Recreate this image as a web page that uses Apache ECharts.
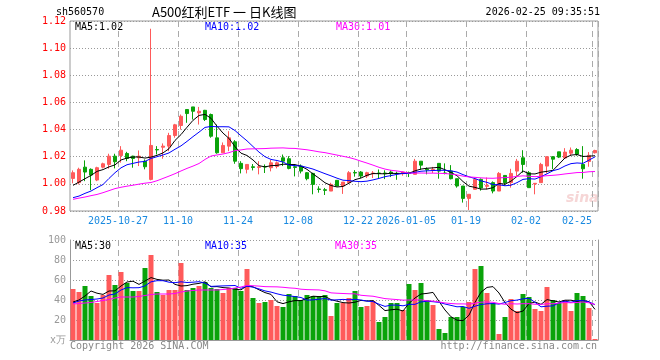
<!DOCTYPE html>
<html><head><meta charset="utf-8">
<script src="https://cdn.jsdelivr.net/npm/echarts@6/dist/echarts.min.js"></script>
<style>html,body{margin:0;padding:0;background:#fff}#c{width:660px;height:360px}</style>
</head><body><div id="c"></div>
<script>
const dates = [
 '2025-10-15','2025-10-16','2025-10-17','2025-10-20','2025-10-21','2025-10-22','2025-10-23','2025-10-24','2025-10-27','2025-10-28',
 '2025-10-29','2025-10-30','2025-10-31','2025-11-03','2025-11-04','2025-11-05','2025-11-06','2025-11-07','2025-11-10','2025-11-11',
 '2025-11-12','2025-11-13','2025-11-14','2025-11-17','2025-11-18','2025-11-19','2025-11-20','2025-11-21','2025-11-24','2025-11-25',
 '2025-11-26','2025-11-27','2025-11-28','2025-12-01','2025-12-02','2025-12-03','2025-12-04','2025-12-05','2025-12-08','2025-12-09',
 '2025-12-10','2025-12-11','2025-12-12','2025-12-15','2025-12-16','2025-12-17','2025-12-18','2025-12-19','2025-12-22','2025-12-23',
 '2025-12-24','2025-12-25','2025-12-26','2025-12-29','2025-12-30','2025-12-31','2026-01-05','2026-01-06','2026-01-07','2026-01-08',
 '2026-01-09','2026-01-12','2026-01-13','2026-01-14','2026-01-15','2026-01-16','2026-01-19','2026-01-20','2026-01-21','2026-01-22',
 '2026-01-23','2026-01-26','2026-01-27','2026-01-28','2026-01-29','2026-01-30','2026-02-02','2026-02-03','2026-02-04','2026-02-05',
 '2026-02-06','2026-02-09','2026-02-10','2026-02-11','2026-02-12','2026-02-13','2026-02-24','2026-02-25'];
const opens = [
 1.0040,1.0009,1.0123,1.0107,1.0028,1.0123,1.0143,1.0204,1.0209,1.0224,
 1.0204,1.0192,1.0167,1.0033,1.0253,1.0270,1.0278,1.0356,1.0430,1.0548,
 1.0567,1.0523,1.0542,1.0511,1.0339,1.0229,1.0278,1.0310,1.0151,1.0107,
 1.0126,1.0121,1.0128,1.0119,1.0128,1.0192,1.0185,1.0126,1.0131,1.0082,
 1.0077,0.9962,0.9957,0.9947,1.0026,0.9984,1.0009,1.0084,1.0087,1.0058,
 1.0075,1.0080,1.0080,1.0087,1.0078,1.0075,1.0082,1.0070,1.0167,1.0109,
 1.0100,1.0151,1.0080,1.0094,1.0038,0.9984,0.9893,0.9960,1.0033,0.9982,
 1.0009,0.9947,1.0062,1.0009,1.0094,1.0192,1.0082,0.9999,1.0009,1.0131,
 1.0200,1.0236,1.0190,1.0226,1.0253,1.0143,1.0165,1.0229];
const closes = [
 1.0082,1.0107,1.0087,1.0065,1.0119,1.0148,1.0204,1.0163,1.0248,1.0187,
 1.0187,1.0204,1.0126,1.0283,1.0250,1.0278,1.0356,1.0435,1.0498,1.0518,
 1.0535,1.0535,1.0474,1.0351,1.0229,1.0283,1.0339,1.0167,1.0112,1.0143,
 1.0121,1.0126,1.0124,1.0155,1.0155,1.0167,1.0114,1.0121,1.0094,1.0038,
 0.9996,0.9959,0.9952,0.9996,0.9984,1.0013,1.0082,1.0080,1.0058,1.0082,
 1.0080,1.0077,1.0075,1.0075,1.0075,1.0087,1.0077,1.0167,1.0138,1.0104,
 1.0106,1.0094,1.0077,1.0038,0.9984,0.9893,0.9923,1.0033,0.9970,0.9989,
 0.9947,1.0077,1.0009,1.0077,1.0167,1.0143,0.9972,1.0004,1.0143,1.0200,
 1.0182,1.0197,1.0234,1.0248,1.0219,1.0111,1.0210,1.0246];
const lows = [
 1.0004,0.9996,1.0020,0.9954,1.0020,1.0114,1.0112,1.0114,1.0156,1.0167,
 1.0119,1.0131,1.0107,1.0026,1.0217,1.0185,1.0241,1.0340,1.0400,1.0450,
 1.0474,1.0437,1.0463,1.0340,1.0222,1.0229,1.0241,1.0148,1.0077,1.0077,
 1.0099,1.0070,1.0080,1.0092,1.0114,1.0131,1.0107,1.0055,1.0077,1.0026,
 0.9923,0.9935,0.9918,0.9947,0.9984,0.9926,1.0009,1.0053,1.0043,1.0043,
 1.0043,1.0038,1.0035,1.0050,1.0030,1.0060,1.0050,1.0070,1.0104,1.0070,
 1.0080,1.0038,1.0070,1.0033,0.9972,0.9862,0.9807,0.9960,0.9950,0.9960,
 0.9930,0.9947,0.9987,0.9972,1.0057,1.0082,0.9972,0.9923,1.0009,1.0077,
 1.0109,1.0190,1.0190,1.0207,1.0207,1.0038,1.0126,1.0224];
const highs = [
 1.0099,1.0119,1.0173,1.0114,1.0126,1.0156,1.0222,1.0222,1.0278,1.0236,
 1.0207,1.0246,1.0180,1.1143,1.0278,1.0298,1.0376,1.0442,1.0511,1.0548,
 1.0567,1.0567,1.0545,1.0518,1.0437,1.0305,1.0388,1.0322,1.0167,1.0143,
 1.0146,1.0167,1.0143,1.0177,1.0165,1.0216,1.0204,1.0146,1.0143,1.0087,
 1.0082,0.9982,0.9970,1.0008,1.0026,1.0013,1.0094,1.0101,1.0094,1.0089,
 1.0094,1.0106,1.0100,1.0100,1.0090,1.0090,1.0090,1.0184,1.0167,1.0121,
 1.0125,1.0151,1.0151,1.0138,1.0038,0.9984,0.9923,1.0045,1.0040,1.0047,
 1.0018,1.0087,1.0062,1.0111,1.0184,1.0248,1.0094,1.0006,1.0155,1.0204,
 1.0204,1.0236,1.0263,1.0268,1.0263,1.0278,1.0234,1.0251];
const volumes = [
 51,48,54,44,37,45,65,55,68,57,
 49,49,72,85,48,45,50,50,77,50,
 52,54,58,52,51,47,52,52,49,71,
 42,37,38,40,34,33,46,44,40,45,
 44,44,45,24,37,37,42,49,33,34,
 39,18,23,37,37,30,56,50,57,40,
 35,11,7,23,23,33,38,71,74,47,
 37,6,23,41,29,46,43,31,29,53,
 40,37,40,29,47,44,32,1];
// moving-average values before enough history exists in the window
const priceMa5Head = [0.9989,1.0013,1.0038,1.0062];
const priceMa10Head = [0.9898,0.9910,0.9930,0.9947,0.9972,0.9995,1.0040,1.0082,1.0118];
const priceMa30Head = [0.9886,0.9895,0.9903,0.9913,0.9922,0.9935,0.9950,0.9965,0.9975,0.9983,
 0.9990,0.9998,1.0005,1.0010,1.0023,1.0040,1.0057,1.0075,1.0095,1.0114,
 1.0131,1.0150,1.0180,1.0205,1.0213,1.0220,1.0230,1.0245,1.0250];
const volMa5Head = [38,40,44,49];
const volMa10Head = [37,39,40,40.5,41,42,45,46,50];
const volMa30Head = [36,36.5,37,37.5,38.5,39.5,40.5,42,43,43,43,43.5,44.5,45.5,46,46,46,46.5,48,49,49.5,50,50,50,50,50.5,51,52,53];
const tickDates = ['2025-10-27','2025-11-10','2025-11-24','2025-12-08','2025-12-22','2026-01-05','2026-01-19','2026-02-02','2026-02-25'];
const tickLabels = ['2025-10-27','11-10','11-24','12-08','12-22','2026-01-05','01-19','02-02','02-25'];
const priceMin = 0.98, priceMax = 1.12, priceStep = 0.02;
const volMin = 0, volMax = 100, volStep = 20;

function movingAvg(src, n, head){
  return src.map((v,i)=>{
    if(i<head.length) return head[i];
    let s=0; for(let k=i-n+1;k<=i;k++) s+=src[k];
    return +(s/n).toFixed(4);
  });
}
const RED='#ff5a5a', GREEN='#0aa30a';
const MONO='DejaVu Sans Mono';
const isUp = i => closes[i]>opens[i] || (closes[i]===opens[i] && i>0 && closes[i]>=closes[i-1]);
const kData = dates.map((d,i)=>[opens[i],closes[i],lows[i],highs[i]]);
const volData = volumes.map((v,i)=>({value:v,itemStyle:{color:isUp(i)?RED:GREEN}}));
const showTick = (idx,val)=>tickDates.indexOf(val)>=0;
const vSplit = {show:true, interval:showTick, lineStyle:{color:'#aaa', type:[6,4], width:1}};
const hSplit = {show:true, lineStyle:{color:'#999', type:[1,2], width:1}};
const lastTick = tickDates[tickDates.length-1];

const chart = echarts.init(document.getElementById('c'), null, {renderer:'canvas'});
chart.setOption({
  animation:false,
  backgroundColor:'#fff',
  grid:[
    {left:70, top:21, width:528, height:190, show:true, borderColor:'#999', borderWidth:1, backgroundColor:'transparent'},
    {left:70, top:240, width:528, height:100}
  ],
  xAxis:[
    {gridIndex:0, type:'category', data:dates, boundaryGap:true,
      axisLine:{show:false}, axisTick:{show:false},
      axisLabel:{interval:showTick, margin:5,
        formatter:(v)=>{const t=tickLabels[tickDates.indexOf(v)]; return v===lastTick?'{l|'+t+'}':'{n|'+t+'}';},
        rich:{
          n:{color:'#1a8ae0', fontFamily:MONO, fontSize:10, padding:[0,6,0,0]},
          l:{color:'#1a8ae0', fontFamily:MONO, fontSize:10, padding:[0,36,0,0]}
        }},
      splitLine:vSplit},
    {gridIndex:1, type:'category', data:dates, boundaryGap:true,
      axisLine:{show:true, lineStyle:{color:'#fff'}}, axisTick:{show:false}, axisLabel:{show:false},
      splitLine:vSplit},
    {gridIndex:1, type:'category', data:dates, position:'top', boundaryGap:true,
      axisLine:{show:true, lineStyle:{color:'#999'}}, axisTick:{show:false}, axisLabel:{show:false}, splitLine:{show:false}}
  ],
  yAxis:[
    {gridIndex:0, type:'value', min:priceMin, max:priceMax, interval:priceStep, scale:true,
      axisLine:{show:false}, axisTick:{show:false},
      axisLabel:{color:'#f00', fontFamily:MONO, fontSize:10, margin:4, formatter:v=>v.toFixed(2)},
      splitLine:hSplit},
    {gridIndex:1, type:'value', min:volMin, max:volMax, interval:volStep,
      axisLine:{show:true, lineStyle:{color:'#999'}}, axisTick:{show:false},
      axisLabel:{color:'#999', fontFamily:MONO, fontSize:10, margin:4, formatter:v=>v===0?'x万':String(v)},
      splitLine:hSplit},
    {gridIndex:1, type:'value', position:'right', min:volMin, max:volMax, interval:volStep,
      axisLine:{show:true, lineStyle:{color:'#999'}}, axisTick:{show:false}, axisLabel:{show:false}, splitLine:{show:false}}
  ],
  series:[
    {type:'candlestick', xAxisIndex:0, yAxisIndex:0, data:kData, barWidth:4,
      itemStyle:{color:RED, color0:GREEN, borderColor:RED, borderColor0:GREEN, borderWidth:1}},
    {type:'line', xAxisIndex:0, yAxisIndex:0, data:movingAvg(closes,5,priceMa5Head), showSymbol:false, lineStyle:{color:'#000',width:1}, z:3},
    {type:'line', xAxisIndex:0, yAxisIndex:0, data:movingAvg(closes,10,priceMa10Head), showSymbol:false, lineStyle:{color:'#00f',width:1}, z:3},
    {type:'line', xAxisIndex:0, yAxisIndex:0, data:movingAvg(closes,30,priceMa30Head), showSymbol:false, lineStyle:{color:'#f0f',width:1}, z:3},
    {type:'bar', xAxisIndex:1, yAxisIndex:1, data:volData, barWidth:5},
    {type:'line', xAxisIndex:1, yAxisIndex:1, data:movingAvg(volumes,5,volMa5Head), showSymbol:false, lineStyle:{color:'#000',width:1}, z:3},
    {type:'line', xAxisIndex:1, yAxisIndex:1, data:movingAvg(volumes,10,volMa10Head), showSymbol:false, lineStyle:{color:'#00f',width:1}, z:3},
    {type:'line', xAxisIndex:1, yAxisIndex:1, data:movingAvg(volumes,30,volMa30Head), showSymbol:false, lineStyle:{color:'#f0f',width:1}, z:3}
  ],
  graphic:[
    {type:'text', x:56, y:12, style:{text:'sh560570', fill:'#000', fontFamily:MONO, fontSize:10, align:'left', verticalAlign:'middle'}},
    {type:'text', x:152, y:12, style:{text:'A500红利ETF 一 日K线图', fill:'#000', fontFamily:'Noto Sans CJK SC', fontSize:13, align:'left', verticalAlign:'middle'}},
    {type:'text', x:600, y:12, style:{text:'2026-02-25 09:35:51', fill:'#000', fontFamily:MONO, fontSize:10, align:'right', verticalAlign:'middle'}},
    {type:'text', x:75, y:27, style:{text:'MA5:1.02', fill:'#000', fontFamily:MONO, fontSize:10, verticalAlign:'middle'}},
    {type:'text', x:205, y:27, style:{text:'MA10:1.02', fill:'#00f', fontFamily:MONO, fontSize:10, verticalAlign:'middle'}},
    {type:'text', x:336, y:27, style:{text:'MA30:1.01', fill:'#f0f', fontFamily:MONO, fontSize:10, verticalAlign:'middle'}},
    {type:'text', x:75, y:246, style:{text:'MA5:30', fill:'#000', fontFamily:MONO, fontSize:10, verticalAlign:'middle'}},
    {type:'text', x:205, y:246, style:{text:'MA10:35', fill:'#00f', fontFamily:MONO, fontSize:10, verticalAlign:'middle'}},
    {type:'text', x:335, y:246, style:{text:'MA30:35', fill:'#f0f', fontFamily:MONO, fontSize:10, verticalAlign:'middle'}},
    {type:'text', x:70, y:346, style:{text:'Copyright 2026 SINA.COM', fill:'#888', fontFamily:MONO, fontSize:10, verticalAlign:'middle'}},
    {type:'text', x:597, y:346, style:{text:'http://finance.sina.com.cn', fill:'#888', fontFamily:MONO, fontSize:10, align:'right', verticalAlign:'middle'}},
    {type:'text', x:566, y:198, z:-1, style:{text:'sina', fill:'#f6d6d6', fontFamily:'DejaVu Sans', fontSize:14, fontWeight:'bold', fontStyle:'italic', verticalAlign:'middle'}}
  ]
});
</script></body></html>
